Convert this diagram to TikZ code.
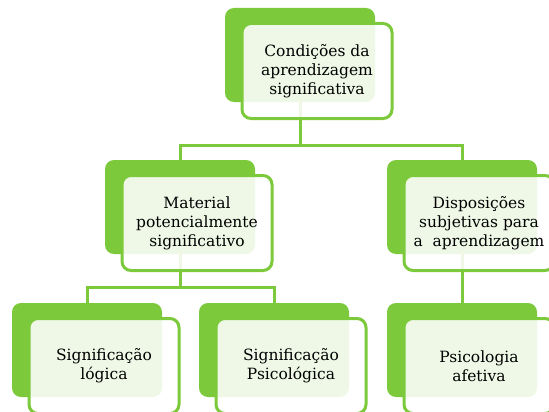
\documentclass[tikz,border=0pt]{standalone}
\usepackage{fontspec}
\setmainfont{DejaVu Serif}
\usepackage{tikz}
\usetikzlibrary{positioning,backgrounds}
\definecolor{leafgreen}{RGB}{124,202,60}
\tikzset{
    %Define green block behind each box
    backbox/.style={
             rectangle, rounded corners=9pt,
             fill=leafgreen,
             minimum width=150pt, minimum height=94pt},
    %Define style for text boxes
    textbox/.style={
             rectangle, rounded corners=9pt,
             draw=leafgreen, line width=3pt,
             fill=white, fill opacity=0.88, text opacity=1,
             minimum width=150pt, minimum height=95pt,
             align=center, font=\fontsize{15.5}{19}\selectfont},
    % Define connector style
    treelink/.style={
            draw=leafgreen,
            line width=3pt}
}
\begin{document}
\begin{tikzpicture}[x=1pt, y=-1pt]
    \useasboundingbox (0,0) rectangle (549,412);
    \clip (0,0) rectangle (549,412);
    \node[backbox] (condb) at (300,55) {};
    \node[backbox] (matb) at (180,207) {};
    \node[backbox] (dispb) at (462,207) {};
    \node[backbox] (siglb) at (87,350) {};
    \node[backbox] (sigpb) at (274,350) {};
    \node[backbox] (psicb) at (462,350) {};
    \node[textbox] (cond) at ([shift={(17,16)}]condb.center) {Condições da\\aprendizagem\\significativa};
    \node[textbox] (mat) at ([shift={(17,16)}]matb.center) {Material\\potencialmente\\significativo};
    \node[textbox] (disp) at ([shift={(17,16)}]dispb.center) {Disposições\\subjetivas para\\a~~aprendizagem};
    \node[textbox] (sigl) at ([shift={(17,16)}]siglb.center) {Significação\\lógica};
    \node[textbox] (sigp) at ([shift={(17,16)}]sigpb.center) {Significação\\Psicológica};
    \node[textbox] (psic) at ([shift={(17,16)}]psicb.center) {Psicologia\\afetiva};
    \begin{scope}[on background layer]
    \draw[treelink] (condb.south) -- ++(0,43) -| (matb.north);
    \draw[treelink] (condb.south) -- ++(0,43) -| (dispb.north);
    \draw[treelink] (matb.south) -- ++(0,33) -| (siglb.north);
    \draw[treelink] (matb.south) -- ++(0,33) -| (sigpb.north);
    \draw[treelink] (dispb.south) -- (psicb.north);
    \end{scope}
\end{tikzpicture}
\end{document}
